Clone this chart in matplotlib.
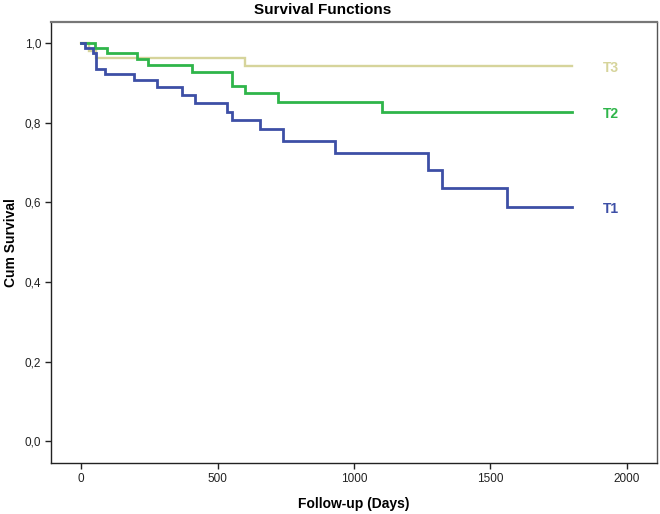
import matplotlib
matplotlib.use("Agg")
import matplotlib.pyplot as plt
from matplotlib.ticker import FuncFormatter

# Kaplan-Meier step data (days, cumulative survival)
t1_days = [0, 15, 44, 55, 88, 194, 277, 369, 418, 534, 552, 656, 739, 930, 1272, 1321, 1559, 1800]
t1_surv = [1.0, 0.987, 0.974, 0.936, 0.922, 0.907, 0.889, 0.869, 0.850, 0.827, 0.808, 0.783,
           0.755, 0.723, 0.681, 0.637, 0.589, 0.589]

t2_days = [0, 51, 95, 205, 246, 406, 553, 601, 722, 1101, 1800]
t2_surv = [1.0, 0.987, 0.974, 0.959, 0.945, 0.928, 0.892, 0.875, 0.853, 0.827, 0.827]

t3_days = [0, 30, 55, 600, 1800]
t3_surv = [1.0, 0.980, 0.962, 0.942, 0.942]

groups = ["T1", "T2", "T3"]
x_ticks = [0, 500, 1000, 1500, 2000]
y_ticks = [0.0, 0.2, 0.4, 0.6, 0.8, 1.0]

COLORS = {"T1": "#3d4fa6", "T2": "#2fb54a", "T3": "#d6d49b"}

plt.rcParams.update({
    "font.family": ["Liberation Sans", "DejaVu Sans"],
    "font.size": 8,
})

fig = plt.figure(figsize=(6.6, 5.14), dpi=100)
ax = fig.add_axes([51 / 660, 1 - 463 / 514, (657 - 51) / 660, (463 - 22) / 514])

series = {"T1": (t1_days, t1_surv), "T2": (t2_days, t2_surv), "T3": (t3_days, t3_surv)}
widths = {"T1": 2.0, "T2": 2.0, "T3": 1.7}
for g in ["T3", "T2", "T1"]:
    d, s = series[g]
    ax.step(d, s, where="post", color=COLORS[g], lw=widths[g], solid_joinstyle="miter")

# end labels
for g in groups:
    d, s = series[g]
    ax.text(d[-1] + 110, s[-1] - 0.005, g, color=COLORS[g], fontsize=10,
            fontweight="bold", ha="left", va="center")

ax.set_xlim(-110, 2110)
ax.set_ylim(-0.055, 1.053)
ax.set_xticks(x_ticks)
ax.set_yticks(y_ticks)
ax.yaxis.set_major_formatter(FuncFormatter(lambda v, p: f"{v:.1f}".replace(".", ",")))
ax.tick_params(direction="out", length=4, width=1, colors="#222222", labelsize=8.5, pad=3)

for side in ["left", "bottom"]:
    ax.spines[side].set_color("#222222")
    ax.spines[side].set_linewidth(1.0)
ax.spines["top"].set_color("#777777")
ax.spines["top"].set_linewidth(1.6)
ax.spines["right"].set_color("#555555")
ax.spines["right"].set_linewidth(1.0)

ax.set_xlabel("Follow-up (Days)", fontsize=10, fontweight="bold", labelpad=9)
ax.set_ylabel("Cum Survival", fontsize=10, fontweight="bold", labelpad=5)
fig.text(323 / 660, 1 - 10 / 514, "Survival Functions", fontsize=11, fontweight="bold",
         ha="center", va="center")

fig.savefig("out.png", dpi=100)
plt.close(fig)
